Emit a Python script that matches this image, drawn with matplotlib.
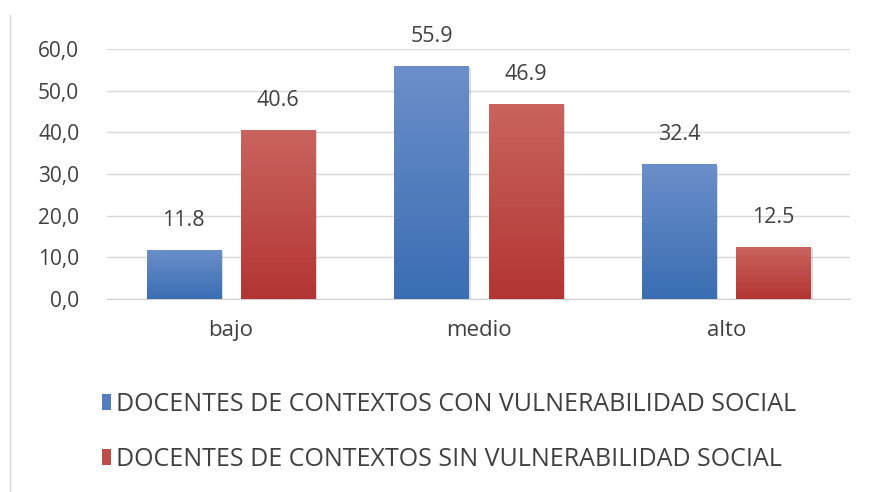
import matplotlib
matplotlib.use("Agg")
import matplotlib.pyplot as plt
import numpy as np
from matplotlib.lines import Line2D
from matplotlib.patches import Patch

categories = ["bajo", "medio", "alto"]
con_vuln = [11.8, 55.9, 32.4]
sin_vuln = [40.6, 46.9, 12.5]
series_names = ["DOCENTES DE CONTEXTOS CON VULNERABILIDAD SOCIAL",
                "DOCENTES DE CONTEXTOS SIN VULNERABILIDAD SOCIAL"]
yticks = [0, 10, 20, 30, 40, 50, 60]
ytick_labels = ["0,0", "10,0", "20,0", "30,0", "40,0", "50,0", "60,0"]

plt.rcParams['font.family'] = ['Open Sans', 'DejaVu Sans']

fig = plt.figure(figsize=(8.72, 4.92), dpi=100)
ax = fig.add_axes([0.1227, 0.392, 0.975 - 0.1227, 0.9004 - 0.392])

x = np.arange(len(categories))
w = 0.30
off = 0.19

blue_top, blue_bot = np.array([0.42, 0.56, 0.79]), np.array([0.23, 0.43, 0.70])
red_top, red_bot = np.array([0.79, 0.39, 0.37]), np.array([0.70, 0.21, 0.20])

def grad_bars(xs, vals, ctop, cbot, label):
    bars = ax.bar(xs, vals, w, color=cbot, label=label, zorder=3)
    for b in bars:
        x0, y0 = b.get_x(), b.get_y()
        bw, bh = b.get_width(), b.get_height()
        n = 64
        t = np.linspace(0, 1, n)[:, None]
        img = (ctop[None, :] * (1 - t) + cbot[None, :] * t)[:, None, :]
        im = ax.imshow(img, extent=[x0, x0 + bw, y0, y0 + bh], aspect='auto',
                       origin='upper', zorder=4)
        im.set_clip_path(b)
        ax.bar(x0 + bw / 2 + 0.008, bh, bw, bottom=-0.35, color='#00000022',
               zorder=2, linewidth=0)
    for xi, v in zip(xs, vals):
        ax.annotate(f"{v:.1f}", (xi, v), xytext=(0, 21), textcoords='offset points',
                    ha='center', va='center', fontsize=15.5, color='#404040', zorder=5)
    return bars

b1 = grad_bars(x - off, con_vuln, blue_top, blue_bot, series_names[0])
b2 = grad_bars(x + off, sin_vuln, red_top, red_bot, series_names[1])

ax.set_xlim(-0.5, 2.5)
ax.set_ylim(0, 60)
ax.set_yticks(yticks)
ax.set_yticklabels(ytick_labels)
ax.set_xticks(x)
ax.set_xticklabels(categories)
ax.grid(axis='y', color='#d9d9d9', linewidth=1.0, zorder=0)
ax.set_axisbelow(True)
for s in ['top', 'right', 'left']:
    ax.spines[s].set_visible(False)
ax.spines['bottom'].set_color('#d0d0d0')
ax.tick_params(axis='both', length=0, colors='#404040')
ax.tick_params(axis='y', pad=20, labelsize=15)
ax.tick_params(axis='x', pad=15, labelsize=16)

handles = [Patch(facecolor=(blue_top + blue_bot) / 2), Patch(facecolor=(red_top + red_bot) / 2)]
leg = fig.legend(handles, series_names, loc='upper left', bbox_to_anchor=(0.117, 0.204),
                 frameon=False, fontsize=18, handlelength=0.35, handleheight=0.6,
                 handletextpad=0.22, labelspacing=1.2, borderaxespad=0, borderpad=0)
for t in leg.get_texts():
    t.set_color('#404040')

fig.add_artist(Line2D([10 / 872, 10 / 872], [0, 1 - 15 / 492], transform=fig.transFigure,
                      color='#d9d9d9', linewidth=1))

fig.savefig("out.png", dpi=100)
